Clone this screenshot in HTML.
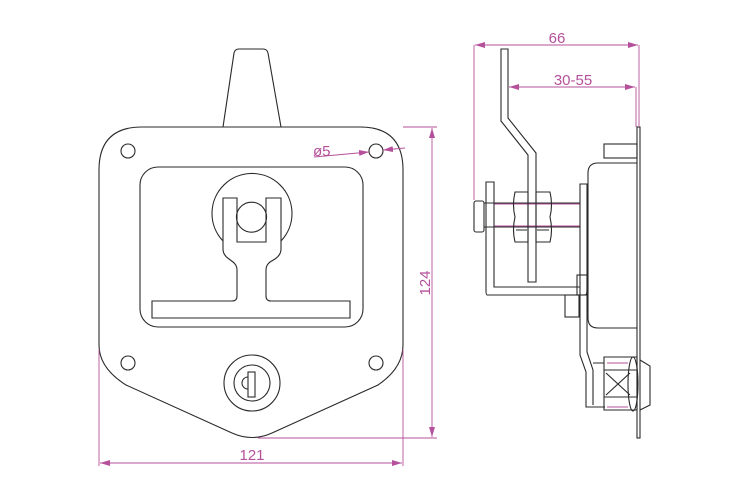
<!DOCTYPE html>
<html><head><meta charset="utf-8"><style>
html,body{margin:0;padding:0;background:#fff;width:750px;height:500px;overflow:hidden}
svg{display:block}
.k{fill:none;stroke:#2a2a2a;stroke-width:1.1}
.p{fill:none;stroke:#b5509b;stroke-width:0.9}
.t{fill:#b5509b;font-family:"Liberation Sans",sans-serif;font-size:15px}
</style></head><body>
<svg width="750" height="500" viewBox="0 0 750 500" xmlns="http://www.w3.org/2000/svg">
<defs>
<marker id="a" viewBox="0 0 10 6" refX="10" refY="3" markerWidth="10" markerHeight="6" orient="auto-start-reverse" markerUnits="userSpaceOnUse"><path d="M0,0 L10,3 L0,6 Z" fill="#b5509b"/></marker>
</defs>
<!-- FRONT VIEW -->
<path class="k" d="M223,127 L234,53 Q235,49 239,49 L263,49 Q267,49 268,53 L281,127"/>
<path class="k" d="M142,127 L360,127 Q403,127 403,170 L403,345 Q403,368 378,385 L272,433 Q252,442 232,433 L126,385 Q99,368 99,345 L99,170 Q99,127 142,127 Z"/>
<circle class="k" cx="128" cy="151" r="7"/>
<circle class="k" cx="376" cy="151" r="7"/>
<circle class="k" cx="128" cy="363" r="7"/>
<circle class="k" cx="376" cy="363" r="7"/>
<rect class="k" x="140" y="167" width="223" height="160" rx="18"/>
<path class="k" d="M237,198 L223,198 L223,249 Q223,255 229,259 L233,262 Q237,265 237,270 L237,296 Q237,301 232,301 L152,301 L152,318 L350,318 L350,301 L271,301 Q266,301 266,296 L266,270 Q266,265 270,262 L275,259 Q281,255 281,249 L281,198 L266,198 L266,242 L237,242 Z"/>
<path class="k" d="M223,241 A40,40 0 1 1 281,241"/>
<path class="k" d="M237,221 A15,15 0 1 1 266,221"/>
<path class="k" d="M237,221 A15,15 0 0 0 266,221"/>
<circle class="k" cx="252" cy="383" r="28"/>
<circle class="k" cx="252" cy="383" r="18"/>
<rect class="k" x="248" y="372" width="7" height="25"/>
<path class="k" d="M248,377 A6,6 0 0 0 248,389"/>
<!-- front dims -->
<path class="p" d="M403,127 L437,127 M258,438 L437,438 M99,350 L99,466 M403,350 L403,466"/>
<line class="p" x1="432" y1="128" x2="432" y2="437" marker-start="url(#a)" marker-end="url(#a)"/>
<line class="p" x1="100" y1="463" x2="402" y2="463" marker-start="url(#a)" marker-end="url(#a)"/>
<text class="t" x="252" y="460" text-anchor="middle">121</text>
<text class="t" transform="translate(430,283) rotate(-90)" text-anchor="middle">124</text>
<text class="t" x="313" y="156">ø5</text>
<line class="p" x1="314" y1="157" x2="369" y2="152" marker-end="url(#a)"/>
<line class="p" x1="405" y1="148" x2="383" y2="150" marker-end="url(#a)"/>
<!-- SIDE VIEW -->
<rect class="k" x="637" y="127" width="3" height="311"/>
<rect class="k" x="604" y="144" width="33" height="14"/>
<path class="k" d="M637,163 L598,163 Q588,163 588,173 L588,318 Q588,328 598,328 L637,328"/>
<path class="k" d="M501,49 L508,49 L508,118 L536,153 L536,282 L528,282 L528,155 L501,121 Z"/>
<rect class="k" x="474" y="201" width="10" height="31" rx="2"/>
<path class="k" d="M484,203 L580,203 M484,227 L580,227"/>
<path class="p" d="M494,204 L580,204 M494,226 L580,226"/>
<path class="k" d="M486,182 L494,182 L494,287 L580,287 L580,184 L587,184 L587,290 Q587,295 585,295 L487,295 Q486,295 486,290 Z"/>
<path class="k" d="M580,287 L580,355 L586,372 L586,407 L605,407 M587,290 L587,352 L593,370 L593,405"/>
<rect class="k" x="577" y="275" width="10" height="20"/>
<rect class="k" x="565" y="295" width="14" height="22"/>
<path class="k" d="M515,192 L528,192 L528,242 L515,242 Q512,230 515,217 Q512,205 515,192 Z"/>
<path class="k" d="M536,192 L550,192 Q553,205 550,217 Q553,230 550,242 L536,242 Z"/>
<path class="k" d="M516,203 L527,203 M516,230 L527,230 M537,203 L549,203 M537,230 L549,230"/>
<path class="k" d="M593,363 L604,363 M604,357 L637,357 L637,410 L604,410 Z M604,370 L637,370 M604,397 L637,397 M606,373 L630,395 M606,395 L630,373"/>
<path class="p" d="M607,363 L628,363 M607,407 L628,407"/>
<ellipse class="k" cx="633" cy="384" rx="5" ry="27"/>
<path class="k" d="M640,360 L650,366 L650,405 L640,410"/>
<!-- side dims -->
<path class="p" d="M474,45 L474,200 M639,45 L639,127 M636,87 L636,127"/>
<line class="p" x1="475" y1="45" x2="638" y2="45" marker-start="url(#a)" marker-end="url(#a)"/>
<line class="p" x1="509" y1="87" x2="635" y2="87" marker-start="url(#a)" marker-end="url(#a)"/>
<text class="t" x="557" y="43" text-anchor="middle">66</text>
<text class="t" x="573" y="85" text-anchor="middle">30-55</text>
</svg>
</body></html>
